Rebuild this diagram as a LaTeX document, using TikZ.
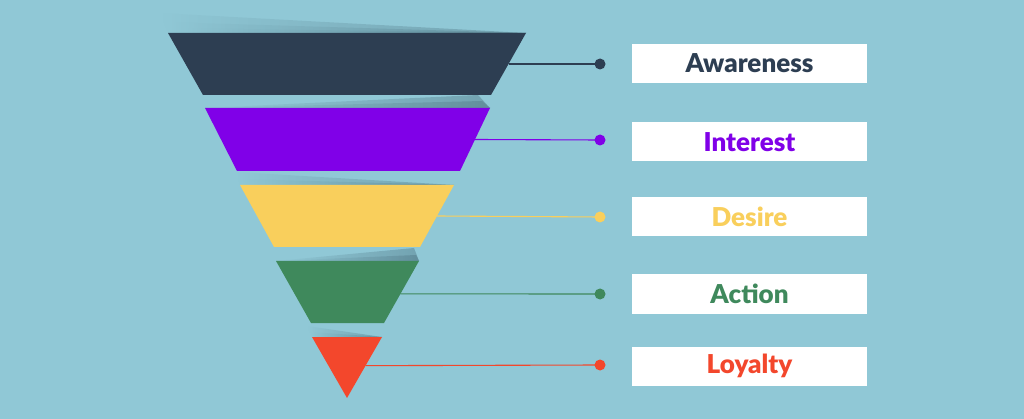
\documentclass[tikz,border=0pt]{standalone}
\usepackage{fontspec}
\IfFontExistsTF{Lato Black}{\setmainfont{Lato}[BoldFont={Lato Black}]}{\setmainfont{Lato}[BoldFeatures={FakeBold=1.2}]}
\usetikzlibrary{calc}
\definecolor{bgc}{HTML}{90C8D6}
\definecolor{shd}{HTML}{4F7684}
\definecolor{cA}{HTML}{2D3E52}
\definecolor{cI}{HTML}{8000E8}
\definecolor{cD}{HTML}{F9CF5C}
\definecolor{cAc}{HTML}{3F895C}
\definecolor{cL}{HTML}{F3472C}
\tikzset{
  lbl/.style={fill=white, minimum width=235pt, minimum height=39pt, inner sep=0pt,
    font=\fontsize{26}{30}\selectfont\bfseries},
  dotn/.style={circle, inner sep=0pt, minimum size=11pt},
  conn/.style={line width=1.1pt},
  wedge/.style={left color=bgc, right color=shd, opacity=0.45},
}
\begin{document}
\begin{tikzpicture}[x=1pt,y=-1pt]
\fill[bgc] (0,0) rectangle (1024,419);
\useasboundingbox (0,0) rectangle (1024,419);

% shadows
\shade[wedge] (160,13) -- (526,33) -- (168,33) -- cycle;
\shade[wedge] (165,22) -- (526,33) -- (168,33) -- cycle;
\shade[wedge] (172,28) -- (526,33) -- (168,33) -- cycle;

\shade[wedge] (205,108) -- (478,95) -- (490,108) -- cycle;
\shade[wedge] (205,108) -- (482,101) -- (490,108) -- cycle;

\shade[wedge] (236,172) -- (454,185) -- (240,185) -- cycle;
\shade[wedge] (240,179) -- (454,185) -- (240,185) -- cycle;

\shade[wedge] (276,261) -- (414,248) -- (419,261) -- cycle;
\shade[wedge] (276,261) -- (416,255) -- (419,261) -- cycle;

\shade[wedge] (307,326) -- (382,337) -- (312,337) -- cycle;
\shade[wedge] (310,332) -- (382,337) -- (312,337) -- cycle;

% funnel layers
\coordinate (tl1) at (168,33); \coordinate (tr1) at (526,33);
\coordinate (br1) at (491,95); \coordinate (bl1) at (203,95);
\coordinate (tl2) at (205,108); \coordinate (tr2) at (490,108);
\coordinate (br2) at (460,171); \coordinate (bl2) at (237,171);
\coordinate (tl3) at (240,185); \coordinate (tr3) at (454,185);
\coordinate (br3) at (420,247); \coordinate (bl3) at (274,247);
\coordinate (tl4) at (276,261); \coordinate (tr4) at (419,261);
\coordinate (br4) at (384,323); \coordinate (bl4) at (311,323);
\coordinate (tl5) at (312,337); \coordinate (tr5) at (382,337);
\coordinate (ap5) at (347,398);

\fill[cA] (tl1) -- (tr1) -- (br1) -- (bl1) -- cycle;
\fill[cI] (tl2) -- (tr2) -- (br2) -- (bl2) -- cycle;
\fill[cD] (tl3) -- (tr3) -- (br3) -- (bl3) -- cycle;
\fill[cAc] (tl4) -- (tr4) -- (br4) -- (bl4) -- cycle;
\fill[cL] (tl5) -- (tr5) -- (ap5) -- cycle;

\coordinate (e1) at ($(tr1)!0.5!(br1)$);
\coordinate (e2) at ($(tr2)!0.5!(br2)$);
\coordinate (e3) at ($(tr3)!0.5!(br3)$);
\coordinate (e4) at ($(tr4)!0.53!(br4)$);
\coordinate (e5) at ($(tr5)!0.47!(ap5)$);

% dots
\node[dotn, fill=cA] (d1) at (600,64) {};
\node[dotn, fill=cI] (d2) at (600,140) {};
\node[dotn, fill=cD] (d3) at (600,217) {};
\node[dotn, fill=cAc] (d4) at (600,294) {};
\node[dotn, fill=cL] (d5) at (600,365) {};

\draw[conn, cA] (e1) -- (d1.center);
\draw[conn, cI] (e2) -- (d2.center);
\draw[conn, cD] (e3) -- (d3.center);
\draw[conn, cAc] (e4) -- (d4.center);
\draw[conn, cL] (e5) -- (d5.center);

% labels
\node[lbl, text=cA] (l1) at (749.5,63.5) {Awareness};
\node[lbl, text=cI] (l2) at (749.5,142) {Interest};
\node[lbl, text=cD] (l3) at (749.5,216.5) {Desire};
\node[lbl, text=cAc] (l4) at (749.5,294) {Action};
\node[lbl, text=cL] (l5) at (749.5,366) {Loyalty};
\end{tikzpicture}
\end{document}
